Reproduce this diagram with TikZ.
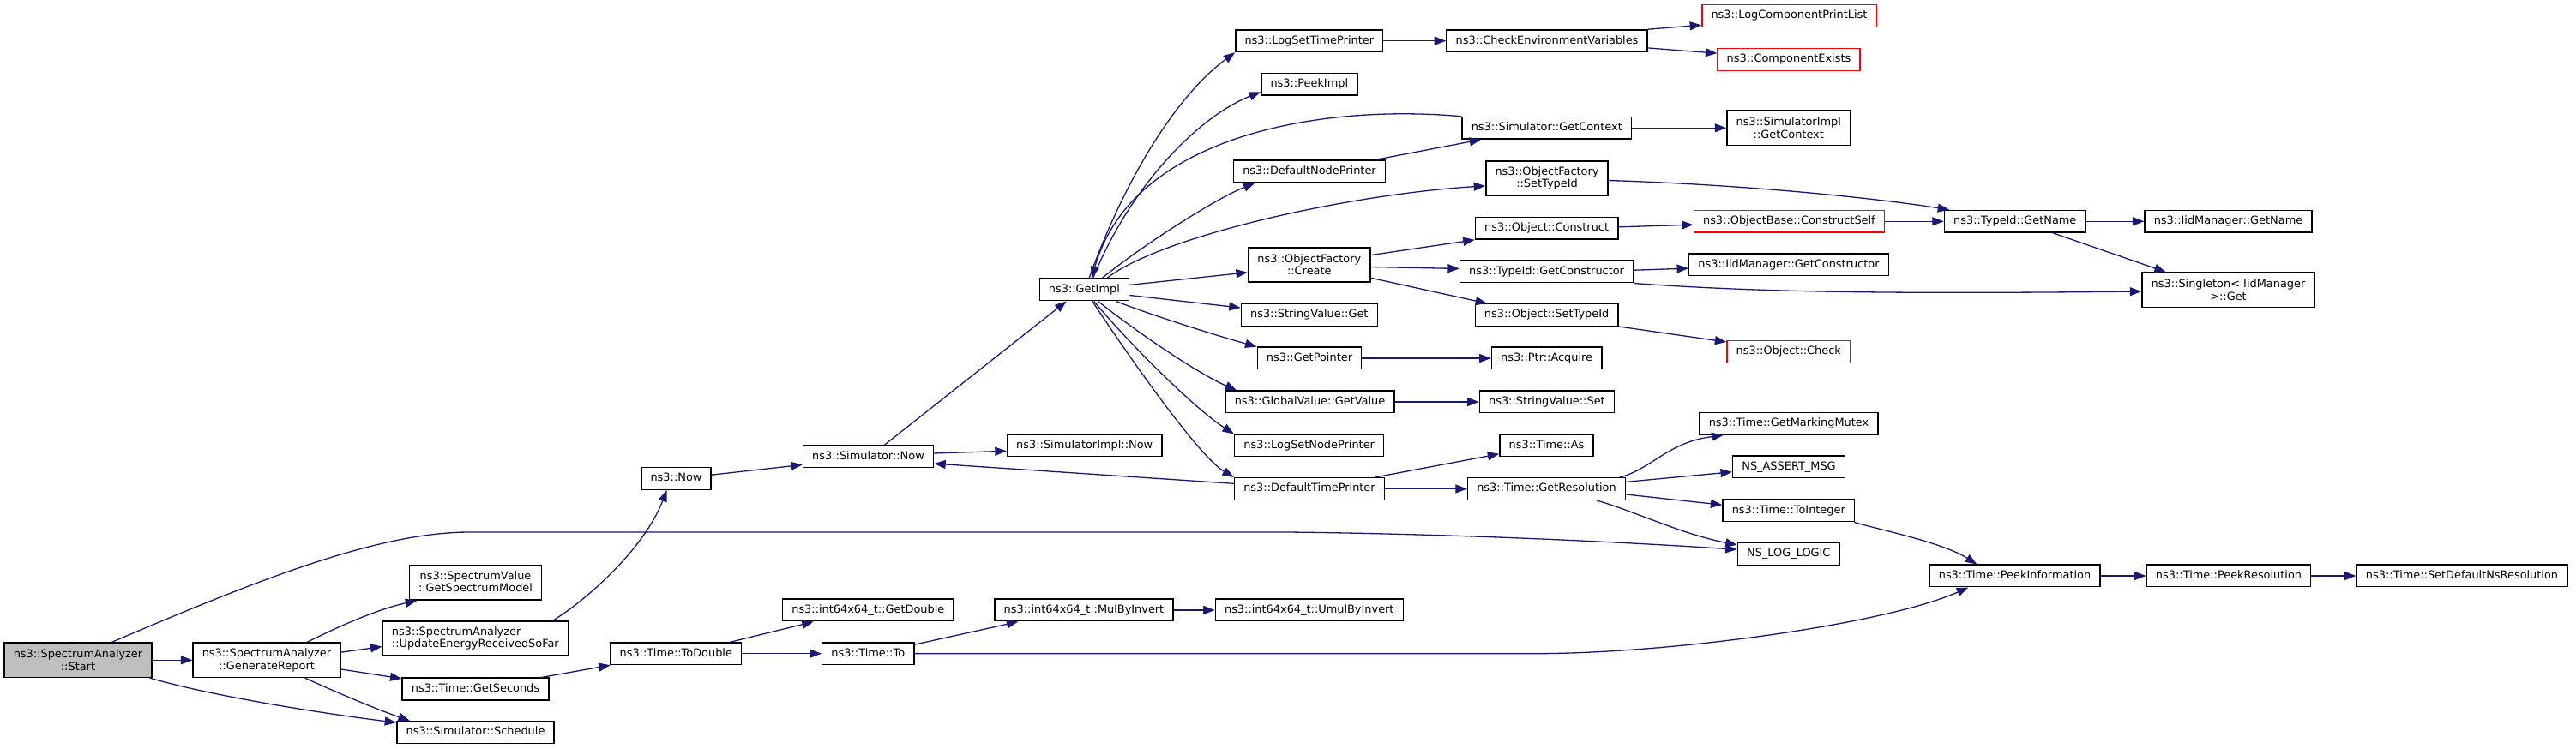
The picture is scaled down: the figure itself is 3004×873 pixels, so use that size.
\documentclass[tikz,border=0pt]{standalone}
\usepackage{fontspec}
\setmainfont{DejaVu Sans}
\usetikzlibrary{arrows.meta}
\definecolor{callblue}{HTML}{191970}
\definecolor{rootgray}{HTML}{BFBFBF}
\definecolor{truncred}{HTML}{FF0000}
\tikzset{
  fnbox/.style={rectangle,draw=black,line width=1.4pt,fill=white,inner xsep=10.7pt,inner ysep=0pt,font=\fontsize{12.9}{14.3}\selectfont},
  fn/.style={fnbox,minimum height=25.6pt,text height=9.8pt,text depth=3pt},
  fntwo/.style={fnbox,align=center,minimum height=40.3pt},
  fnroot/.style={fntwo,fill=rootgray},
  fntrunc/.style={fn,draw=truncred},
  call/.style={-{Triangle[length=13.5pt,width=10pt]},line width=1.3pt,callblue}
}
\begin{document}
\begin{tikzpicture}[x=1pt,y=1pt]
    \useasboundingbox (0,0) rectangle (3004,873);
    \node[fnroot] (start) at (91,102.7) {ns3::SpectrumAnalyzer\\::Start};
    \node[fntwo] (genrep) at (311,102.7) {ns3::SpectrumAnalyzer\\::GenerateReport};
    \node[fntwo] (getspec) at (554.5,193) {ns3::SpectrumValue\\::GetSpectrumModel};
    \node[fntwo,align=left] (upden) at (554.3,128) {ns3::SpectrumAnalyzer\\::UpdateEnergyReceivedSoFar};
    \node[fn] (getsec) at (554.5,69) {ns3::Time::GetSeconds};
    \node[fn] (sched) at (554.5,18.5) {ns3::Simulator::Schedule};
    \node[fn] (now) at (788.5,314.5) {ns3::Now};
    \node[fn] (todbl) at (788.3,110.3) {ns3::Time::ToDouble};
    \node[fn] (simnow) at (1012.5,340) {ns3::Simulator::Now};
    \node[fn] (getdbl) at (1012.3,161) {ns3::int64x64\_t::GetDouble};
    \node[fn] (timeto) at (1012.3,110.3) {ns3::Time::To};
    \node[fn] (implnow) at (1264.7,353) {ns3::SimulatorImpl::Now};
    \node[fn] (gimpl) at (1264.4,535) {ns3::GetImpl};
    \node[fn] (mulinv) at (1264,161) {ns3::int64x64\_t::MulByInvert};
    \node[fn] (logtime) at (1526.8,825.3) {ns3::LogSetTimePrinter};
    \node[fn] (peek) at (1526.8,774.7) {ns3::PeekImpl};
    \node[fn] (nodeprn) at (1527,673) {ns3::DefaultNodePrinter};
    \node[fntwo] (ofcreate) at (1526.8,564) {ns3::ObjectFactory\\::Create};
    \node[fn] (svget) at (1526.8,505.5) {ns3::StringValue::Get};
    \node[fn] (getptr) at (1527,455) {ns3::GetPointer};
    \node[fn] (gvget) at (1527.5,404) {ns3::GlobalValue::GetValue};
    \node[fn] (lognode) at (1526.7,353) {ns3::LogSetNodePrinter};
    \node[fn] (timeprn) at (1527,302.5) {ns3::DefaultTimePrinter};
    \node[fn] (umulinv) at (1526.8,161) {ns3::int64x64\_t::UmulByInvert};
    \node[fn] (chkenv) at (1804,825.3) {ns3::CheckEnvironmentVariables};
    \node[fn] (simctx) at (1803.8,723.7) {ns3::Simulator::GetContext};
    \node[fntwo] (ofsettid) at (1804,665) {ns3::ObjectFactory\\::SetTypeId};
    \node[fn] (construct) at (1803.6,606.7) {ns3::Object::Construct};
    \node[fn] (getctor) at (1803.6,556) {ns3::TypeId::GetConstructor};
    \node[fn] (osettid) at (1803.6,505.5) {ns3::Object::SetTypeId};
    \node[fn] (acquire) at (1803.6,455) {ns3::Ptr::Acquire};
    \node[fn] (svset) at (1803.9,404) {ns3::StringValue::Set};
    \node[fn] (timeas) at (1803.5,353) {ns3::Time::As};
    \node[fn] (getres) at (1803.5,302.5) {ns3::Time::GetResolution};
    \node[fntrunc] (logcomp) at (2086.5,854.5) {ns3::LogComponentPrintList};
    \node[fntrunc] (compex) at (2086,803.5) {ns3::ComponentExists};
    \node[fntwo] (implctx) at (2085.8,723.7) {ns3::SimulatorImpl\\::GetContext};
    \node[fntrunc] (cself) at (2086.4,614.7) {ns3::ObjectBase::ConstructSelf};
    \node[fn] (iidctor) at (2086,564) {ns3::IidManager::GetConstructor};
    \node[fntrunc] (ocheck) at (2085.8,462.5) {ns3::Object::Check};
    \node[fn] (markmx) at (2086,378.5) {ns3::Time::GetMarkingMutex};
    \node[fn] (assertmsg) at (2086,328) {NS\_ASSERT\_MSG};
    \node[fn] (toint) at (2085.8,277) {ns3::Time::ToInteger};
    \node[fn] (loglogic) at (2085.8,226.5) {NS\_LOG\_LOGIC};
    \node[fn] (tidname) at (2349.8,614.7) {ns3::TypeId::GetName};
    \node[fn] (peekinfo) at (2349.5,201) {ns3::Time::PeekInformation};
    \node[fn] (iidname) at (2598.5,614.7) {ns3::IidManager::GetName};
    \node[fntwo] (singleton) at (2598.5,534.7) {ns3::Singleton< IidManager\\>::Get};
    \node[fn] (peekres) at (2599,201) {ns3::Time::PeekResolution};
    \node[fn] (setdefres) at (2871,201) {ns3::Time::SetDefaultNsResolution};
    \draw[call] (start) -- (genrep);
    \draw[call] (start.28) .. controls (300,196) and (440,252) .. (548,252) -- (1500,252) .. controls (1700,250) and (1900,240) .. (loglogic.175.5);
    \draw[call] (start.-14) .. controls (250,60) and (380,40) .. (sched.173);
    \draw[call] (genrep.24) .. controls (395,142) and (440,162) .. (getspec.197);
    \draw[call] (genrep.6) -- (upden.185);
    \draw[call] (genrep.-7.5) -- (getsec.172);
    \draw[call] (genrep.-25) .. controls (390,66) and (440,45) .. (sched.170);
    \draw[call] (upden.13) .. controls (680,170) and (750,230) .. (now.231);
    \draw[call] (getsec.10) -- (todbl.190);
    \draw[call] (todbl.12.6) -- (getdbl.192);
    \draw[call] (todbl) -- (timeto);
    \draw[call] (now.6) -- (simnow.187);
    \draw[call] (simnow.36) -- (gimpl.213);
    \draw[call] (simnow.3) -- (implnow.184);
    \draw[call] (gimpl.67) .. controls (1310,660) and (1370,760) .. (logtime.south west);
    \draw[call] (gimpl.53) .. controls (1320,660) and (1400,738) .. (peek.189);
    \draw[call] (gimpl.33) .. controls (1330,585) and (1415,640) .. (nodeprn.192);
    \draw[call] (gimpl.27) .. controls (1350,595) and (1560,645) .. (ofsettid.187);
    \draw[call] (gimpl.6.2) -- (ofcreate.187.4);
    \draw[call] (gimpl.-7.6) -- (svget.174);
    \draw[call] (gimpl.-20) .. controls (1345,504.5) and (1420,481) .. (getptr.north west);
    \draw[call] (gimpl.-40) .. controls (1325,486) and (1397,437) .. (gvget.171);
    \draw[call] (gimpl.-50) .. controls (1315,474) and (1392,397) .. (lognode.north west);
    \draw[call] (gimpl.-55) .. controls (1313,462) and (1397,341) .. (timeprn.north west);
    \draw[call] (simctx.north west) .. controls (1540,752) and (1320,715) .. (gimpl.57);
    \draw[call] (nodeprn.10.5) -- (simctx.190.5);
    \draw[call] (logtime) -- (chkenv);
    \draw[call] (chkenv.north east) -- (logcomp.186);
    \draw[call] (chkenv.-4.3) -- (compex.175);
    \draw[call] (simctx) -- (implctx);
    \draw[call] (ofsettid.-2) .. controls (2050,657) and (2200,640) .. (tidname.170);
    \draw[call] (ofcreate.9) -- (construct.south west);
    \draw[call] (ofcreate.-2) -- (getctor.178);
    \draw[call] (ofcreate.-12) -- (osettid.169);
    \draw[call] (construct.1.6) -- (cself.182);
    \draw[call] (getctor.1.7) -- (iidctor.182);
    \draw[call] (getctor.south east) .. controls (2050,532) and (2200,530) .. (singleton.181.5);
    \draw[call] (osettid.south east) -- (ocheck.171.6);
    \draw[call] (cself) -- (tidname);
    \draw[call] (tidname) -- (iidname);
    \draw[call] (tidname.-17) -- (singleton.164);
    \draw[call] (getptr) -- (acquire);
    \draw[call] (gvget) -- (svset);
    \draw[call] (timeprn.176) -- (simnow.-6);
    \draw[call] (timeprn.10) -- (timeas.190);
    \draw[call] (timeprn) -- (getres);
    \draw[call] (getres.9.5) .. controls (1925,325) and (1945,357) .. (markmx.190);
    \draw[call] (getres.5) -- (assertmsg.185);
    \draw[call] (getres.-4.8) -- (toint.175);
    \draw[call] (getres.-13.6) .. controls (1910,275) and (1960,250) .. (loglogic.170);
    \draw[call] (toint.-10.8) .. controls (2195,254) and (2265,240) .. (peekinfo.163.5);
    \draw[call] (timeto) -- (1790,110.3) .. controls (1950,110.3) and (2200,145) .. (peekinfo.194.5);
    \draw[call] (timeto.11.6) -- (mulinv.190.5);
    \draw[call] (mulinv) -- (umulinv);
    \draw[call] (peekinfo) -- (peekres);
    \draw[call] (peekres) -- (setdefres);
  \end{tikzpicture}
\end{document}
